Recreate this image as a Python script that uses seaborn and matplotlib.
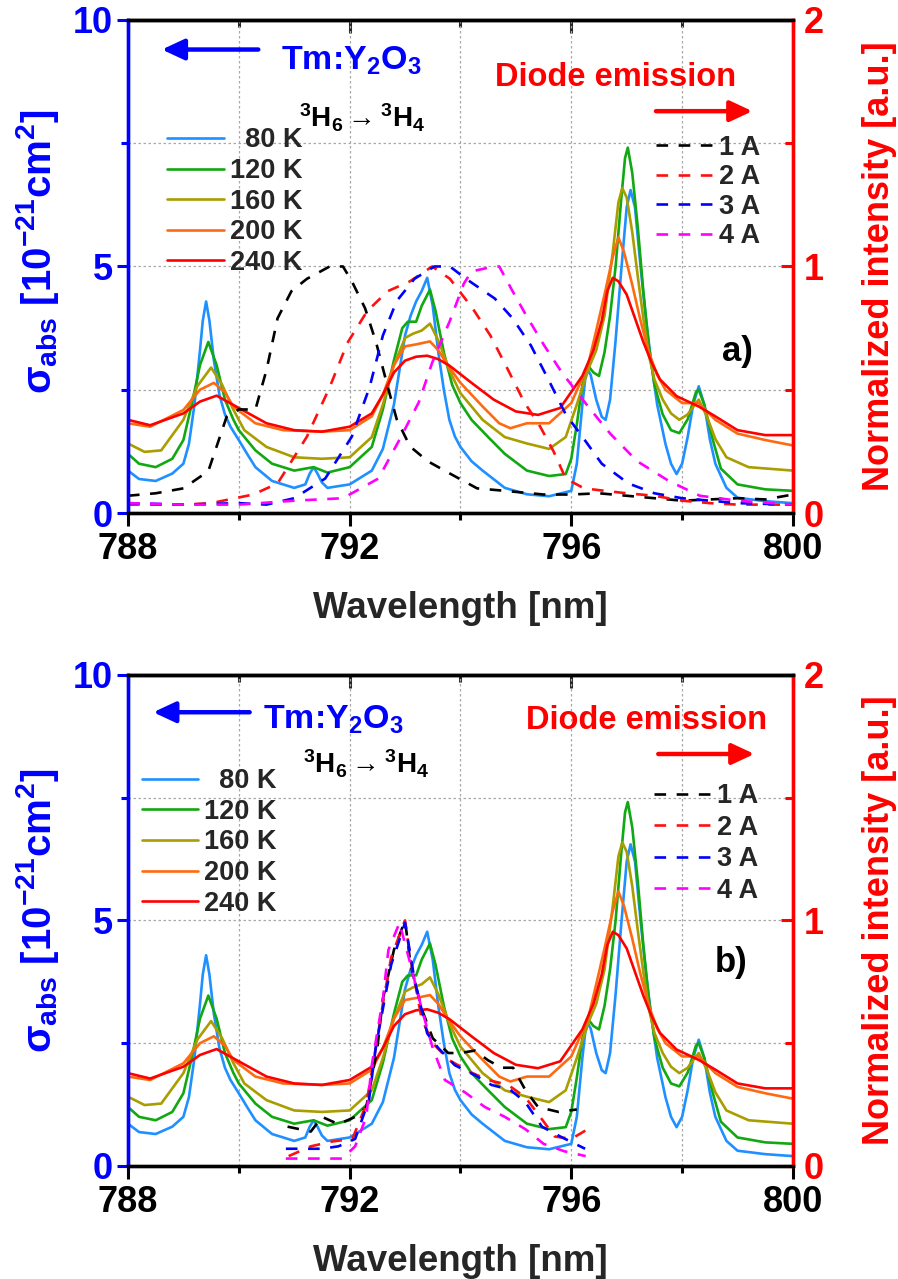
import matplotlib
matplotlib.use("Agg")
import matplotlib.pyplot as plt
import seaborn as sns
from matplotlib.ticker import MultipleLocator

sns.set_style("white")
plt.rcParams['font.family'] = ['Liberation Sans', 'DejaVu Sans']
plt.rcParams['font.weight'] = 'bold'
plt.rcParams['mathtext.fontset'] = 'custom'
plt.rcParams['mathtext.rm'] = 'Liberation Sans'
plt.rcParams['mathtext.it'] = 'Liberation Sans:italic'
plt.rcParams['mathtext.bf'] = 'Liberation Sans:bold'
plt.rcParams['mathtext.default'] = 'regular'

# ---------------- absorption cross-section (left axis, 1e-21 cm^2) ----------------
abs_80K_x = [788.0, 788.2, 788.5, 788.8, 789.0, 789.1, 789.2, 789.3, 789.35, 789.41, 789.47, 789.55, 789.65,
             789.75, 789.85, 790.0, 790.15, 790.3, 790.6, 791.0, 791.2, 791.28, 791.35, 791.42, 791.5,
             791.6, 792.0, 792.4, 792.6, 792.8, 792.9, 793.0, 793.1, 793.2, 793.3, 793.4, 793.5, 793.6,
             793.7, 793.8, 793.9, 794.0, 794.2, 794.4, 794.8, 795.2, 795.6, 796.0, 796.1, 796.2, 796.25,
             796.3, 796.35, 796.45, 796.55, 796.62, 796.7, 796.8, 796.9, 797.0, 797.07, 797.15, 797.25,
             797.35, 797.45, 797.55, 797.7, 797.8, 797.9, 798.0, 798.1, 798.2, 798.3, 798.4, 798.5,
             798.6, 798.8, 799.0, 799.5, 800.0]
abs_80K_y = [0.86, 0.69, 0.65, 0.8, 1.0, 1.4, 2.2, 3.3, 3.9, 4.29, 3.9, 3.1, 2.4,
             2.0, 1.75, 1.48, 1.2, 0.93, 0.65, 0.51, 0.58, 0.8, 0.93, 0.8, 0.62,
             0.51, 0.58, 0.86, 1.3, 2.2, 2.9, 3.6, 4.0, 4.29, 4.5, 4.77, 4.2, 3.26,
             2.5, 1.89, 1.55, 1.34, 1.05, 0.86, 0.51, 0.38, 0.34, 0.45, 1.0, 2.2, 2.7,
             2.9, 2.8, 2.3, 1.95, 1.89, 2.3, 3.5, 4.9, 6.2, 6.55, 6.2, 5.0,
             3.9, 3.0, 2.2, 1.4, 1.0, 0.79, 1.0, 1.54, 2.2, 2.57, 2.2, 1.5,
             1.0, 0.51, 0.31, 0.24, 0.2]

abs_120K_x = [788.0, 788.2, 788.5, 788.8, 789.0, 789.15, 789.3, 789.45, 789.6, 789.75, 789.9, 790.0,
              790.3, 790.6, 791.0, 791.35, 791.6, 792.0, 792.4, 792.6, 792.8, 792.95, 793.05, 793.2,
              793.3, 793.45, 793.55, 793.7, 793.85, 794.0, 794.2, 794.5, 794.8, 795.2, 795.6, 795.9,
              796.0, 796.1, 796.2, 796.3, 796.4, 796.5, 796.6, 796.7, 796.8, 796.9, 796.97, 797.02,
              797.1, 797.2, 797.3, 797.4, 797.5, 797.65, 797.8, 797.95, 798.1, 798.25, 798.3, 798.4,
              798.55, 798.7, 799.0, 799.5, 800.0]
abs_120K_y = [1.2, 1.0, 0.93, 1.1, 1.48, 2.2, 3.0, 3.47, 3.0, 2.3, 1.9, 1.68,
              1.27, 1.0, 0.86, 0.93, 0.82, 0.93, 1.34, 2.1, 3.1, 3.75, 3.88, 3.88,
              4.2, 4.53, 4.1, 3.26, 2.6, 2.23, 1.89, 1.54, 1.2, 0.86, 0.75, 0.79,
              1.1, 1.8, 2.6, 2.99, 2.85, 2.78, 3.26, 4.0, 5.0, 6.35, 7.2, 7.41,
              6.9, 5.8, 4.5, 3.4, 2.6, 2.0, 1.68, 1.62, 1.9, 2.45, 2.5, 2.2,
              1.5, 0.9, 0.58, 0.48, 0.45]

abs_160K_x = [788.0, 788.3, 788.6, 789.0, 789.25, 789.5, 789.7, 789.9, 790.1, 790.5, 791.0, 791.5,
              792.0, 792.4, 792.6, 792.8, 793.0, 793.15, 793.3, 793.45, 793.6, 793.8, 794.0, 794.4,
              794.8, 795.2, 795.6, 795.9, 796.1, 796.3, 796.45, 796.6, 796.75, 796.85, 796.92, 797.0,
              797.1, 797.2, 797.3, 797.4, 797.5, 797.65, 797.8, 797.95, 798.1, 798.3, 798.45, 798.6,
              798.8, 799.2, 800.0]
abs_160K_y = [1.41, 1.24, 1.27, 1.89, 2.57, 2.95, 2.6, 2.1, 1.68, 1.34, 1.13, 1.1,
              1.13, 1.54, 2.2, 3.0, 3.55, 3.64, 3.7, 3.84, 3.5, 2.9, 2.43, 1.89,
              1.54, 1.41, 1.3, 1.54, 2.2, 2.9, 3.3, 4.0, 5.3, 6.3, 6.59, 6.4,
              5.7, 4.8, 3.95, 3.2, 2.71, 2.3, 2.02, 1.89, 2.0, 2.3, 1.95, 1.5,
              1.13, 0.93, 0.86]

abs_200K_x = [788.0, 788.4, 789.0, 789.3, 789.55, 789.75, 789.9, 790.3, 790.8, 791.5, 792.0, 792.4,
              792.6, 792.8, 793.0, 793.2, 793.45, 793.6, 793.8, 794.0, 794.4, 794.7, 794.9, 795.2,
              795.6, 796.0, 796.3, 796.45, 796.6, 796.75, 796.85, 796.95, 797.1, 797.25, 797.4, 797.55,
              797.7, 798.0, 798.3, 798.6, 799.0, 799.5, 800.0]
abs_200K_y = [1.82, 1.75, 2.09, 2.5, 2.64, 2.45, 2.16, 1.82, 1.68, 1.65, 1.68, 1.96,
              2.4, 3.0, 3.38, 3.42, 3.48, 3.3, 2.95, 2.64, 2.16, 1.82, 1.72, 1.82,
              1.82, 2.23, 2.99, 3.7, 4.43, 5.2, 5.59, 5.3, 4.63, 3.9, 3.26, 2.8,
              2.5, 2.23, 2.23, 1.89, 1.61, 1.48, 1.37]

abs_240K_x = [788.0, 788.4, 789.0, 789.3, 789.6, 790.0, 790.5, 791.0, 791.5, 792.0, 792.4, 792.6,
              792.8, 793.0, 793.2, 793.4, 793.6, 793.8, 794.2, 794.6, 795.0, 795.4, 795.8, 796.2,
              796.4, 796.55, 796.65, 796.75, 796.85, 797.0, 797.15, 797.3, 797.45, 797.6, 797.9, 798.3,
              798.6, 799.0, 799.5, 800.0]
abs_240K_y = [1.89, 1.78, 2.02, 2.26, 2.38, 2.13, 1.82, 1.68, 1.65, 1.75, 2.02, 2.4,
              2.85, 3.09, 3.17, 3.19, 3.12, 2.99, 2.64, 2.3, 2.06, 1.99, 2.13, 2.78,
              3.3, 3.9, 4.5, 4.77, 4.7, 4.43, 3.95, 3.47, 3.05, 2.71, 2.37, 2.16,
              1.96, 1.68, 1.58, 1.58]

abs_labels = ['\u200780 K', '120 K', '160 K', '200 K', '240 K']
abs_colors = ['#1E90FF', '#12A812', '#A99D00', '#FF6A10', '#FF0000']

# ---------------- diode emission (right axis, normalized) ----------------
# panel a)
da_1A_x = [788.0, 788.5, 789.0, 789.45, 789.78, 790.0, 790.3, 790.5, 790.7, 790.95, 791.23, 791.64, 791.88,
           792.04, 792.28, 792.48, 792.69, 792.85, 793.09, 793.41, 793.81, 794.3, 794.8, 795.5, 796.0,
           796.5, 797.0, 797.5, 798.0, 798.5, 799.0, 799.5, 800.0]
da_1A_y = [0.07, 0.08, 0.1, 0.17, 0.39, 0.42, 0.42, 0.58, 0.79, 0.9, 0.95, 1.0, 1.0,
           0.94, 0.83, 0.69, 0.51, 0.38, 0.27, 0.21, 0.16, 0.1, 0.09, 0.075, 0.075,
           0.08, 0.07, 0.06, 0.05, 0.055, 0.06, 0.055, 0.075]
da_2A_x = [788.0, 789.0, 789.5, 790.26, 790.7, 791.23, 791.64, 791.96, 792.32, 792.69, 793.09, 793.49,
           793.81, 794.22, 794.54, 794.86, 795.15, 795.44, 795.68, 795.9, 796.23, 796.6, 797.0, 797.5,
           798.0, 798.5, 799.0, 800.0]
da_2A_y = [0.034, 0.034, 0.04, 0.075, 0.12, 0.31, 0.51, 0.69, 0.82, 0.9, 0.94, 1.0,
           0.95, 0.83, 0.72, 0.58, 0.45, 0.35, 0.25, 0.14, 0.1, 0.09, 0.08, 0.07,
           0.05, 0.04, 0.034, 0.034]
da_3A_x = [788.0, 789.0, 790.0, 790.5, 791.0, 791.56, 792.04, 792.36, 792.6, 792.85, 793.17, 793.53,
           793.81, 794.1, 794.62, 794.94, 795.27, 795.59, 795.9, 796.23, 796.55, 797.03, 797.5, 798.0,
           798.5, 799.0, 800.0]
da_3A_y = [0.04, 0.034, 0.04, 0.034, 0.06, 0.14, 0.31, 0.51, 0.72, 0.86, 0.95, 1.0,
           1.0, 0.95, 0.87, 0.79, 0.68, 0.54, 0.4, 0.3, 0.2, 0.12, 0.08, 0.06,
           0.05, 0.04, 0.034]
da_4A_x = [788.0, 789.0, 790.0, 791.0, 791.88, 792.52, 792.93, 793.25, 793.49, 793.81, 794.06, 794.2,
           794.6, 794.7, 794.94, 795.19, 795.51, 795.83, 796.31, 796.71, 797.19, 797.76, 798.32, 799.0,
           800.0]
da_4A_y = [0.04, 0.034, 0.034, 0.05, 0.06, 0.14, 0.31, 0.45, 0.61, 0.78, 0.93, 0.98,
           1.0, 1.0, 0.9, 0.8, 0.68, 0.57, 0.43, 0.32, 0.21, 0.13, 0.07, 0.05,
           0.034]

# panel b)
db_1A_x = [790.88, 791.3, 791.5, 791.8, 792.1, 792.3, 792.5, 792.6, 792.8, 793.0, 793.1, 793.3, 793.5,
           793.78, 794.0, 794.26, 794.5, 794.74, 794.95, 795.17, 795.4, 795.77, 796.1]
db_1A_y = [0.16, 0.14, 0.2, 0.17, 0.2, 0.24, 0.48, 0.68, 0.88, 1.0, 0.82, 0.64, 0.52,
           0.46, 0.46, 0.47, 0.43, 0.4, 0.4, 0.31, 0.24, 0.22, 0.23]
db_2A_x = [790.9, 791.3, 791.7, 792.05, 792.3, 792.45, 792.6, 792.75, 793.0, 793.1, 793.3, 793.5,
           793.8, 794.2, 794.5, 794.86, 795.17, 795.47, 795.7, 796.0, 796.3]
db_2A_y = [0.04, 0.08, 0.1, 0.11, 0.25, 0.45, 0.66, 0.85, 1.0, 0.84, 0.6, 0.5,
           0.43, 0.38, 0.35, 0.33, 0.28, 0.19, 0.12, 0.11, 0.15]
db_3A_x = [790.85, 791.5, 791.8, 792.1, 792.35, 792.47, 792.6, 792.75, 793.0, 793.17, 793.4, 793.6,
           793.9, 794.26, 794.56, 794.9, 795.17, 795.47, 795.8, 796.25]
db_3A_y = [0.07, 0.07, 0.08, 0.11, 0.27, 0.48, 0.64, 0.82, 0.99, 0.76, 0.54, 0.48,
           0.41, 0.37, 0.33, 0.31, 0.26, 0.16, 0.12, 0.07]
db_4A_x = [790.85, 791.2, 791.87, 792.1, 792.3, 792.4, 792.6, 792.7, 792.9, 793.1, 793.3, 793.5,
           793.72, 794.08, 794.44, 794.8, 795.17, 795.5, 795.87, 796.26]
db_4A_y = [0.03, 0.03, 0.03, 0.08, 0.2, 0.41, 0.68, 0.88, 0.99, 0.82, 0.64, 0.48,
           0.35, 0.3, 0.24, 0.2, 0.15, 0.09, 0.06, 0.04]

diode_labels = ['1 A', '2 A', '3 A', '4 A']
diode_colors = ['#000000', '#FF1010', '#0000FF', '#FF00FF']

abs_series = [(abs_80K_x, abs_80K_y), (abs_120K_x, abs_120K_y), (abs_160K_x, abs_160K_y),
              (abs_200K_x, abs_200K_y), (abs_240K_x, abs_240K_y)]
diode_a = [(da_1A_x, da_1A_y), (da_2A_x, da_2A_y), (da_3A_x, da_3A_y), (da_4A_x, da_4A_y)]
diode_b = [(db_1A_x, db_1A_y), (db_2A_x, db_2A_y), (db_3A_x, db_3A_y), (db_4A_x, db_4A_y)]

FS_TICK = 26
FS_LAB = 26.5
FS_LEG = 19.5

fig = plt.figure(figsize=(8.98, 12.79), dpi=100)
ax_a = fig.add_axes([0.1425, 0.5989, 0.7405, 0.3855])
ax_b = fig.add_axes([0.1425, 0.0884, 0.7405, 0.3839])


def draw_panel(ax, diode, cfg):
    ax2 = ax.twinx()
    ax.set_zorder(1)
    ax2.set_zorder(2)
    ax2.patch.set_visible(False)

    abs_handles = []
    for (xs, ys), lab, col in zip(abs_series, abs_labels, abs_colors):
        sns.lineplot(x=xs, y=ys, ax=ax, color=col, lw=1.9, sort=False, estimator=None,
                     legend=False, label=lab)
        abs_handles.append(ax.get_lines()[-1])
    dio_handles = []
    for (xs, ys), lab, col in zip(diode, diode_labels, diode_colors):
        sns.lineplot(x=xs, y=ys, ax=ax2, color=col, lw=1.9, sort=False, estimator=None,
                     legend=False, label=lab)
        ln = ax2.get_lines()[-1]
        ln.set_dashes([4.4, 4.0])
        dio_handles.append(ln)

    ax.set_xlim(788, 800)
    ax.set_ylim(0, 10)
    ax2.set_ylim(0, 2)
    ax.xaxis.set_major_locator(MultipleLocator(4))
    ax.xaxis.set_minor_locator(MultipleLocator(2))
    ax.yaxis.set_major_locator(MultipleLocator(5))
    ax.yaxis.set_minor_locator(MultipleLocator(2.5))
    ax2.yaxis.set_major_locator(MultipleLocator(1))
    ax2.yaxis.set_minor_locator(MultipleLocator(0.5))

    ax.grid(True, which='both', color='#a8a8a8', linestyle=(0, (2.0, 2.0)), lw=0.9)
    ax2.grid(False)

    ax.tick_params(axis='x', which='major', direction='out', length=9, width=2.2,
                   labelsize=FS_TICK, pad=5, colors='black', bottom=True)
    ax.tick_params(axis='x', which='minor', direction='out', length=5, width=2.2,
                   colors='black', bottom=True)
    ax.tick_params(axis='y', which='major', direction='out', length=8, width=2.2,
                   labelsize=FS_TICK, pad=3, colors='blue', left=True)
    ax.tick_params(axis='y', which='minor', direction='out', length=5, width=2.2,
                   colors='blue', left=True)
    ax2.tick_params(axis='y', which='major', direction='in', length=9, width=2.2,
                    labelsize=FS_TICK, pad=8, colors='red', right=True)
    ax2.tick_params(axis='y', which='minor', direction='in', length=6, width=2.2,
                    colors='red', right=True)

    top = ax.secondary_xaxis('top')
    top.xaxis.set_major_locator(MultipleLocator(4))
    top.xaxis.set_minor_locator(MultipleLocator(2))
    top.tick_params(axis='x', which='major', direction='in', length=9, width=2.2, labeltop=False)
    top.tick_params(axis='x', which='minor', direction='in', length=5, width=2.2)
    top.spines['top'].set_linewidth(2.4)

    for a in (ax, ax2):
        for side, s in a.spines.items():
            s.set_linewidth(2.4)
        a.spines['left'].set_color('blue')
        a.spines['right'].set_color('red')
        a.spines['top'].set_color('black')
        a.spines['bottom'].set_color('black')

    ax.set_xlabel('Wavelength [nm]', fontsize=FS_LAB, fontweight='bold')
    ax.xaxis.set_label_coords(0.5, -0.158)
    ax.set_ylabel(r'$\mathrm{\sigma}_{abs}$ [10$^{-21}$cm$^{2}$]', fontsize=29,
                  fontweight='bold', color='blue')
    ax.yaxis.set_label_coords(-0.100, cfg['ylab_y'])
    ax2.set_ylabel('Normalized intensity [a.u.]', fontsize=FS_LAB - 0.5,
                   fontweight='bold', color='red')
    ax2.yaxis.set_label_coords(1.104, 0.5)

    ax.legend(handles=abs_handles, labels=abs_labels, loc='upper left',
              bbox_to_anchor=cfg['leg1'], frameon=False,
              handlelength=cfg['hl1'], handletextpad=0.22, labelspacing=0.17,
              borderpad=0, borderaxespad=0, prop={'weight': 'bold', 'size': FS_LEG})
    ax2.legend(handles=dio_handles, labels=diode_labels, loc='upper left',
               bbox_to_anchor=cfg['leg2'], frameon=False,
               handlelength=2.2, handletextpad=0.12, labelspacing=cfg['ls2'],
               borderpad=0, borderaxespad=0, prop={'weight': 'bold', 'size': FS_LEG})

    tr = ax.transAxes
    ax.annotate('', xy=(cfg['barrow'][0], cfg['barrow'][2]), xycoords=tr,
                xytext=(cfg['barrow'][1], cfg['barrow'][2]), textcoords=tr,
                arrowprops=dict(arrowstyle='-|>,head_length=0.75,head_width=0.35', color='blue',
                                lw=3.2, mutation_scale=18, shrinkA=0, shrinkB=0), zorder=5)
    ax.text(cfg['tm'][0], cfg['tm'][1], r'Tm:Y$_2$O$_3$', transform=tr, color='blue',
            fontsize=24.5, fontweight='bold', va='baseline', ha='left', zorder=5)
    ax2.text(cfg['de'][0], cfg['de'][1], 'Diode emission', transform=tr, color='red',
             fontsize=23.5, fontweight='bold', va='baseline', ha='left', zorder=5)
    ax2.annotate('', xy=(cfg['rarrow'][1], cfg['rarrow'][2]), xycoords=tr,
                 xytext=(cfg['rarrow'][0], cfg['rarrow'][2]), textcoords=tr,
                 arrowprops=dict(arrowstyle='-|>,head_length=0.75,head_width=0.35', color='red',
                                 lw=3.2, mutation_scale=18, shrinkA=0, shrinkB=0), zorder=5)
    ax.text(cfg['h'][0], cfg['h'][1], r'$^3$H$_6$$\mathrm{\rightarrow}$$^3$H$_4$', transform=tr,
            color='black', fontsize=20, fontweight='bold', va='baseline', ha='left', zorder=5)
    ax2.text(cfg['tag'][0], cfg['tag'][1], cfg['tag'][2], transform=tr, color='black',
             fontsize=25, fontweight='bold', va='baseline', ha='left', zorder=5)


cfg_a = dict(ylab_y=0.53, leg1=(0.058, 0.782), hl1=2.14, leg2=(0.794, 0.767), ls2=0.13,
             barrow=(0.051, 0.196, 0.94), tm=(0.230, 0.90), de=(0.552, 0.867),
             rarrow=(0.794, 0.939, 0.815), h=(0.257, 0.782), tag=(0.894, 0.309, 'a)'))
cfg_b = dict(ylab_y=0.52, leg1=(0.021, 0.810), hl1=2.07, leg2=(0.791, 0.779), ls2=0.2,
             barrow=(0.038, 0.183, 0.924), tm=(0.203, 0.89), de=(0.598, 0.89),
             rarrow=(0.7975, 0.942, 0.839), h=(0.263, 0.80), tag=(0.882, 0.395, 'b)'))

draw_panel(ax_a, diode_a, cfg_a)
draw_panel(ax_b, diode_b, cfg_b)

fig.savefig('out.png', dpi=100, facecolor='white')
